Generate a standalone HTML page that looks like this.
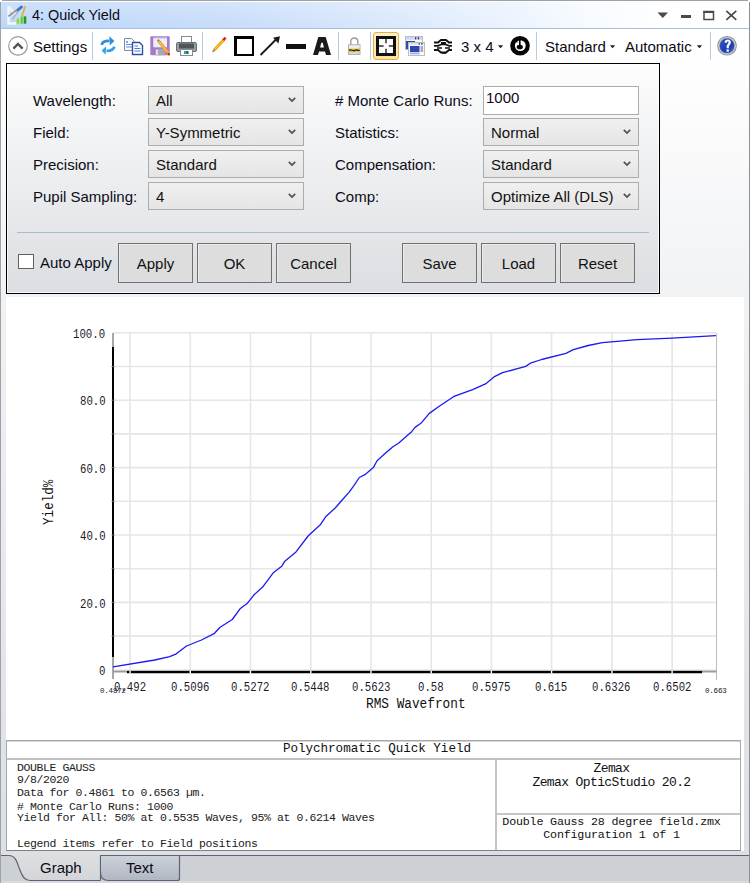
<!DOCTYPE html>
<html><head><meta charset="utf-8">
<style>
*{margin:0;padding:0;box-sizing:border-box}
html,body{width:750px;height:883px;overflow:hidden;background:#fff}
body{position:relative;font-family:"Liberation Sans",sans-serif;color:#000}
.a{position:absolute}
.t{position:absolute;white-space:nowrap;line-height:1}
.sans15{font-size:15px}
.combo{position:absolute;height:28px;border:1px solid #acacac;background:linear-gradient(#f0f0f0,#e5e5e5)}
.combo span{position:absolute;left:7px;top:6px;font-size:15px;line-height:15px;white-space:nowrap;color:#111}
.combo svg{position:absolute;right:7px;top:10px}
.btn{position:absolute;top:243px;width:75px;height:40px;border:1px solid #707070;box-shadow:inset 1px 1px 0 #ececec;background:#dddddd;font-size:15px;text-align:center;line-height:40px;color:#111}
.sep{position:absolute;top:32px;width:1px;height:28px;background:#b9cbe0}
.mono{font-family:"Liberation Mono",monospace}
.tk{position:absolute;white-space:nowrap;line-height:1;font-family:"Liberation Mono",monospace;font-size:12px;transform:scaleX(0.89);transform-origin:0 0;color:#1a1a2a}
.ft{position:absolute;left:17px;white-space:pre;line-height:1;font-family:"Liberation Mono",monospace;font-size:11.5px;letter-spacing:-0.4px;color:#222}
.sm{position:absolute;white-space:nowrap;line-height:1;font-family:"Liberation Mono",monospace;font-size:7.5px;letter-spacing:-0.2px;color:#1a1a2a}
</style></head><body>
<!-- window frame background -->
<div class="a" style="left:0;top:0;width:750px;height:883px;background:linear-gradient(#ffffff 0px,#f1f2f4 297px,#dcdfe3 855px)"></div>
<!-- title bar -->
<div class="a" style="left:0;top:2px;width:750px;height:26px;background:linear-gradient(90deg,#bcd6f9 0%,#c6dcfa 30%,#dce9fc 55%,#f6faff 78%,#ffffff 90%)"></div>
<div class="a" style="left:0;top:2px;width:750px;height:26px;background:linear-gradient(rgba(255,255,255,0.25),rgba(255,255,255,0))"></div>
<div class="a" style="left:0;top:0;width:750px;height:2px;background:#fff"></div>
<div class="a" style="left:2px;top:0;width:746px;height:1px;background:#9ca2a8"></div>
<div class="a" style="left:0;top:28px;width:750px;height:1px;background:#a9c0d8"></div>
<!-- toolbar + settings container gradient -->
<div class="a" style="left:1px;top:29px;width:748px;height:268px;background:linear-gradient(#ffffff 0%,#ffffff 8%,#f1f2f4 100%)"></div>
<!-- plot white area -->
<div class="a" style="left:6px;top:297px;width:738px;height:554px;background:#fff"></div>
<!-- window borders -->
<div class="a" style="left:0;top:2px;width:1px;height:881px;background:#9ca2a8"></div>
<div class="a" style="left:749px;top:2px;width:1px;height:881px;background:#8c9096"></div>

<!-- title -->
<svg class="a" style="left:5px;top:3px" width="25" height="24" viewBox="0 0 25 24">
  <path d="M3.5 3.5 V20.5 H11" stroke="#f4f6f8" stroke-width="2.6" fill="none"/>
  <path d="M3.5 3.5 L11 12" stroke="#f0f2f4" stroke-width="2.6"/>
  <path d="M3.3 13.3 L16.7 3.3" stroke="#8a9098" stroke-width="1.6"/>
  <path d="M7.3 16.7 L13 8.3" stroke="#a8b0b8" stroke-width="1.3"/>
  <path d="M13 7 L16.5 4" stroke="#3a78c0" stroke-width="2.8" stroke-linecap="round"/>
  <path d="M20 3.5 L16.8 14" stroke="#e0b040" stroke-width="1.8"/>
  <path d="M20.2 3 L19.6 5" stroke="#f0a0a0" stroke-width="1.8"/>
  <rect x="11.7" y="15.7" width="2.6" height="5" fill="#88e020"/>
  <rect x="15.7" y="14" width="2" height="6.7" fill="#58d020"/>
  <rect x="18.7" y="13.3" width="2.6" height="7.4" fill="#229a22"/>
</svg>
<div class="t" style="left:32px;top:8px;font-size:14.4px;color:#0c0c18">4: Quick Yield</div>
<!-- window controls -->
<svg class="a" style="left:656px;top:10px" width="84" height="11" viewBox="0 0 84 11">
  <path d="M1.5 2.5 L12 2.5 L6.75 8 Z" fill="#4a4a4a"/>
  <rect x="25" y="5" width="10" height="3" fill="#4a4a4a"/>
  <rect x="48" y="1.5" width="9.5" height="8" fill="none" stroke="#4a4a4a" stroke-width="1.5"/>
  <rect x="47.5" y="1" width="10.5" height="2" fill="#4a4a4a"/>
  <path d="M70.3 0.8 L80.3 9.8 M80.3 0.8 L70.3 9.8" stroke="#4a4a4a" stroke-width="1.7"/>
</svg>

<!-- toolbar -->
<svg class="a" style="left:8px;top:36px" width="20" height="20" viewBox="0 0 20 20">
  <circle cx="10" cy="9.9" r="9.3" fill="#fff" stroke="#9c9c9c" stroke-width="1.2"/>
  <path d="M5.4 12.6 L10 8 L14.6 12.6" stroke="#525252" stroke-width="2.3" fill="none"/>
</svg>
<div class="t sans15" style="left:33px;top:39px;color:#0c0c18">Settings</div>
<div class="sep" style="left:92px"></div>
<!-- refresh -->
<svg class="a" style="left:100px;top:36px" width="16" height="20" viewBox="0 0 16 20">
  <path d="M1.6 8.8 C2.4 5.6 5 4.6 9.5 4.9" stroke="#2a90e2" stroke-width="2.7" fill="none"/>
  <path d="M9.3 0.3 L14.4 5.1 L9.8 9.6 Z" fill="#2a90e2"/>
  <path d="M14.3 10.6 C13.6 13.8 11 14.9 6.5 14.8" stroke="#30a2ee" stroke-width="2.7" fill="none"/>
  <path d="M6.2 10.2 L1.6 14.4 L5.6 18.8 Z" fill="#30a2ee"/>
</svg>
<!-- copy -->
<svg class="a" style="left:123px;top:38px" width="21" height="18" viewBox="0 0 21 18">
  <path d="M1.5 0.5 H8.5 L11.5 3.5 V12.5 H1.5 Z" fill="#fafcff" stroke="#7c8ca8" stroke-width="1"/>
  <rect x="3" y="3" width="2" height="2" fill="#80a8e0"/>
  <path d="M3 6.5 H9 M3 9 H9" stroke="#6890d0" stroke-width="1.2"/>
  <path d="M9.5 4.5 H16.5 L19.5 7.5 V16.5 H9.5 Z" fill="#fff" stroke="#2c50a8" stroke-width="1.4"/>
  <path d="M11.5 8 H15 M11.5 10.5 H17.5 M11.5 13 H17.5" stroke="#4c78d0" stroke-width="1.2"/>
</svg>
<!-- save floppy -->
<svg class="a" style="left:150px;top:36px" width="20" height="20" viewBox="0 0 20 20">
  <rect x="0.3" y="0.3" width="19.4" height="19" rx="1" fill="#a878cc"/>
  <rect x="3.3" y="2" width="13.7" height="9.3" fill="#eaf0f8"/>
  <rect x="3.3" y="1.2" width="13.7" height="1.2" fill="#c8b0e0"/>
  <rect x="5.3" y="13" width="9.4" height="6.3" fill="#a8a8b8"/>
  <rect x="6" y="13.8" width="1.8" height="5" fill="#e8e8f0"/>
  <path d="M8.3 4.5 L18.8 17.8" stroke="#f0a020" stroke-width="3"/>
  <path d="M8.5 5 L17 15.8" stroke="#ffd060" stroke-width="0.9"/>
  <path d="M7.6 3.6 L8.8 5.2" stroke="#909098" stroke-width="2.2"/>
  <path d="M18.2 17.2 L19.6 19.2" stroke="#d82020" stroke-width="2"/>
</svg>
<!-- printer -->
<svg class="a" style="left:176px;top:36px" width="21" height="20" viewBox="0 0 21 20">
  <rect x="5.5" y="0.5" width="10" height="7" fill="#fff" stroke="#8a8a8a"/>
  <rect x="0.5" y="6.5" width="20" height="9" rx="1.5" fill="#9a9ea4" stroke="#6a6e74"/>
  <rect x="3" y="7.5" width="15" height="5" fill="#505458"/>
  <rect x="4.5" y="13.5" width="12" height="6" fill="#fff" stroke="#8a8a8a"/>
  <rect x="8" y="15" width="1.5" height="3" fill="#2890e0"/>
  <rect x="9.5" y="15" width="1.5" height="3" fill="#208850"/>
  <rect x="11" y="15" width="1.5" height="3" fill="#2050a0"/>
  <rect x="18" y="10.5" width="1.3" height="2" fill="#50d050"/>
</svg>
<div class="sep" style="left:202px"></div>
<!-- pencil -->
<svg class="a" style="left:212px;top:36px" width="15" height="17" viewBox="0 0 15 17">
  <path d="M1.8 14.5 L12 3.5" stroke="#f0a010" stroke-width="2.9"/>
  <path d="M3 13 L11.5 4" stroke="#ffd040" stroke-width="1"/>
  <path d="M11.3 4.2 L13.6 1.6" stroke="#e02020" stroke-width="2.6"/>
  <path d="M0.6 16.2 L2.4 14" stroke="#808080" stroke-width="1.3"/>
</svg>
<!-- square -->
<div class="a" style="left:234px;top:36px;width:20px;height:20px;border-style:solid;border-color:#000;border-width:3px 2.5px 2.5px 3px"></div>
<!-- arrow -->
<svg class="a" style="left:259px;top:35px" width="22" height="22" viewBox="0 0 22 22">
  <path d="M1.5 20 L17 4.5" stroke="#1a1a1a" stroke-width="1.8"/>
  <path d="M21 1.2 L14 2.8 L19.4 8.6 Z" fill="#1a1a1a"/>
</svg>
<div class="a" style="left:286px;top:44px;width:20px;height:5px;background:#111"></div>
<svg class="a" style="left:313px;top:37px" width="18" height="18" viewBox="0 0 18 18">
  <path fill-rule="evenodd" fill="#1a1a1a" d="M0 18 L5.3 0 H12.7 L18 18 H13 L12 14.6 H6 L5 18 Z M7.1 10.6 H10.9 L9.7 5.8 H8.3 Z"/>
</svg>
<div class="sep" style="left:338px"></div>
<!-- lock -->
<svg class="a" style="left:348px;top:36px" width="13" height="19" viewBox="0 0 13 19">
  <path d="M2.8 9 V5.5 C2.8 0.8 9.8 0.8 9.8 5.5 V9" stroke="#9a9a9a" stroke-width="1.4" fill="none"/>
  <rect x="0.5" y="8.8" width="11.5" height="9.8" fill="#d8d8d8" stroke="#b0b0b0" stroke-width="1"/>
  <rect x="1" y="9.3" width="10.5" height="3" fill="#ececec"/>
  <rect x="1" y="12.8" width="10.5" height="3.2" fill="#e8c020"/>
  <path d="M1 14.2 C3 12.8 5 15.8 7 14.2 C9 12.8 10 15.5 11.5 14" stroke="#202020" stroke-width="1.3" fill="none"/>
</svg>
<div class="sep" style="left:370px"></div>
<!-- highlighted layout button -->
<div class="a" style="left:373px;top:32px;width:26px;height:28px;border:1px solid #e3b050;border-radius:3px;background:linear-gradient(#fdf0c4,#fce29c)"></div>
<svg class="a" style="left:376px;top:36px" width="20" height="20" viewBox="0 0 20 20">
  <rect x="1.5" y="1.5" width="17" height="17" fill="#fff" stroke="#111" stroke-width="3"/>
  <path d="M10 3 V7.2 M10 12.8 V17 M3 10 H7.6 M12.8 10 H17" stroke="#303030" stroke-width="1.5"/>
</svg>
<!-- window icon -->
<svg class="a" style="left:405px;top:36px" width="20" height="20" viewBox="0 0 20 20">
  <rect x="0.5" y="0.5" width="17" height="13" fill="#f4f6fa" stroke="#b8bcc4"/>
  <rect x="1" y="1" width="16" height="2.6" fill="#d0d8e4"/>
  <rect x="10" y="1.2" width="1.3" height="2.2" fill="#28406a"/>
  <rect x="12.8" y="1.2" width="1.3" height="2.2" fill="#28406a"/>
  <rect x="1" y="5" width="9" height="8" fill="#3048b0"/>
  <rect x="3.5" y="6.5" width="16" height="13" fill="#f8f9fb" stroke="#b8bcc4"/>
  <rect x="4" y="7" width="15" height="1.8" fill="#e0e4ea"/>
  <rect x="13.6" y="7.2" width="1.4" height="1.3" fill="#28406a"/>
  <rect x="16" y="7.2" width="1.6" height="1.3" fill="#28406a"/>
  <rect x="5" y="10" width="9.5" height="6" fill="#3048b0"/>
  <rect x="15.5" y="10" width="2.6" height="6" fill="#a8acb4"/>
  <rect x="5" y="16.5" width="9.5" height="1.8" fill="#a0b0e0"/>
</svg>
<!-- layers icon -->
<svg class="a" style="left:433px;top:37px" width="20" height="18" viewBox="0 0 20 18">
  <path d="M1 5.5 H5 L8 3 H13 L16 5.5 H19" stroke="#111" stroke-width="2" fill="none"/>
  <rect x="8" y="5" width="5" height="2" fill="#111"/>
  <path d="M1 8.8 H5 L8 7.5 H13 L16 8.8 H19" stroke="#111" stroke-width="1.7" fill="none"/>
  <path d="M4 11 H9 M12 11 H17" stroke="#111" stroke-width="1.4"/>
  <path d="M1 13 H5 L8 15.5 H13 L16 13 H19" stroke="#111" stroke-width="2" fill="none"/>
  <rect x="9" y="15" width="4" height="1.8" fill="#111"/>
</svg>
<div class="t sans15" style="left:461px;top:39px;color:#0c0c18">3 x 4</div>
<svg class="a" style="left:497px;top:45px" width="7" height="4" viewBox="0 0 7 4"><path d="M0.8 0.3 H6.2 L3.5 3.2Z" fill="#222"/></svg>
<!-- circle icon -->
<svg class="a" style="left:510px;top:36px" width="20" height="20" viewBox="0 0 20 20">
  <circle cx="10" cy="9.8" r="9.8" fill="#050505"/>
  <circle cx="10.3" cy="9.6" r="5.4" fill="#fff"/>
  <path d="M5 5.5 L7.5 4.2 L7.3 6.8 Z" fill="#050505"/>
  <ellipse cx="9.8" cy="11" rx="3.1" ry="2.3" fill="#050505"/>
  <rect x="9" y="4" width="1.6" height="6" fill="#050505"/>
</svg>
<div class="sep" style="left:536px"></div>
<div class="t sans15" style="left:545px;top:39px;color:#0c0c18">Standard</div>
<svg class="a" style="left:609px;top:45px" width="7" height="4" viewBox="0 0 7 4"><path d="M0.8 0.3 H6.2 L3.5 3.2Z" fill="#222"/></svg>
<div class="t sans15" style="left:625px;top:39px;color:#0c0c18">Automatic</div>
<svg class="a" style="left:696px;top:45px" width="7" height="4" viewBox="0 0 7 4"><path d="M0.8 0.3 H6.2 L3.5 3.2Z" fill="#222"/></svg>
<div class="sep" style="left:710px"></div>
<!-- help -->
<svg class="a" style="left:717px;top:36px" width="20" height="20" viewBox="0 0 20 20">
  <defs><linearGradient id="hg" x1="0" y1="0" x2="1" y2="1"><stop offset="0" stop-color="#3058c8"/><stop offset="0.6" stop-color="#1c3cb0"/><stop offset="1" stop-color="#3a68d8"/></linearGradient></defs>
  <circle cx="10" cy="9.8" r="9.8" fill="#8a8e94"/>
  <circle cx="10" cy="9.8" r="8.9" fill="#d4d9df"/>
  <circle cx="10" cy="9.8" r="8.0" fill="#9aa0a8"/>
  <circle cx="10" cy="9.8" r="7.2" fill="url(#hg)"/>
  <path fill="#fff" d="M7.6 6.6 C7.6 4.4 9.3 3.6 10.8 3.6 C12.6 3.6 13.9 4.7 13.9 6.4 C13.9 8.4 11.9 8.9 11.8 10.9 V12.2 H9.6 V10.6 C9.6 8.3 11.6 7.9 11.6 6.6 C11.6 6 11.2 5.6 10.7 5.6 C10.1 5.6 9.8 6.1 9.8 6.9 Z"/>
  <rect x="9.6" y="13.4" width="2.2" height="2.3" fill="#fff"/>
</svg>
<!-- settings panel -->
<div class="a" style="left:6px;top:63px;width:654px;height:231px;border:1px solid #000;box-shadow:inset 0 0 0 1px rgba(255,255,255,0.75);background:linear-gradient(#fdfdfd,#dbdee2)"></div>
<div class="t sans15" style="left:33px;top:93px;color:#0c0c18">Wavelength:</div>
<div class="t sans15" style="left:33px;top:125px;color:#0c0c18">Field:</div>
<div class="t sans15" style="left:33px;top:157px;color:#0c0c18">Precision:</div>
<div class="t sans15" style="left:33px;top:189px;color:#0c0c18">Pupil Sampling:</div>
<div class="combo" style="left:148px;top:86px;width:156px"><span>All</span><svg width="8" height="6" viewBox="0 0 8 6"><path d="M0.8 0.8 L4 4 L7.2 0.8" stroke="#505050" stroke-width="1.7" fill="none"/></svg></div>
<div class="combo" style="left:148px;top:118px;width:156px"><span>Y-Symmetric</span><svg width="8" height="6" viewBox="0 0 8 6"><path d="M0.8 0.8 L4 4 L7.2 0.8" stroke="#505050" stroke-width="1.7" fill="none"/></svg></div>
<div class="combo" style="left:148px;top:150px;width:156px"><span>Standard</span><svg width="8" height="6" viewBox="0 0 8 6"><path d="M0.8 0.8 L4 4 L7.2 0.8" stroke="#505050" stroke-width="1.7" fill="none"/></svg></div>
<div class="combo" style="left:148px;top:182px;width:156px"><span>4</span><svg width="8" height="6" viewBox="0 0 8 6"><path d="M0.8 0.8 L4 4 L7.2 0.8" stroke="#505050" stroke-width="1.7" fill="none"/></svg></div>

<div class="t sans15" style="left:335px;top:93px;color:#0c0c18"># Monte Carlo Runs:</div>
<div class="t sans15" style="left:335px;top:125px;color:#0c0c18">Statistics:</div>
<div class="t sans15" style="left:335px;top:157px;color:#0c0c18">Compensation:</div>
<div class="t sans15" style="left:335px;top:189px;color:#0c0c18">Comp:</div>
<div class="a" style="left:483px;top:86px;width:156px;height:29px;border:1px solid #acacac;background:#fff"></div>
<div class="t sans15" style="left:486px;top:90px;color:#0c0c18">1000</div>
<div class="combo" style="left:483px;top:118px;width:156px"><span>Normal</span><svg width="8" height="6" viewBox="0 0 8 6"><path d="M0.8 0.8 L4 4 L7.2 0.8" stroke="#505050" stroke-width="1.7" fill="none"/></svg></div>
<div class="combo" style="left:483px;top:150px;width:156px"><span>Standard</span><svg width="8" height="6" viewBox="0 0 8 6"><path d="M0.8 0.8 L4 4 L7.2 0.8" stroke="#505050" stroke-width="1.7" fill="none"/></svg></div>
<div class="combo" style="left:483px;top:182px;width:156px"><span>Optimize All (DLS)</span><svg width="8" height="6" viewBox="0 0 8 6"><path d="M0.8 0.8 L4 4 L7.2 0.8" stroke="#505050" stroke-width="1.7" fill="none"/></svg></div>

<div class="a" style="left:17px;top:232px;width:632px;height:1px;background:#a6bcc8"></div>
<div class="a" style="left:18px;top:254px;width:16px;height:15px;border:1px solid #606060;background:#fff"></div>
<div class="t sans15" style="left:40px;top:255px;color:#0c0c18">Auto Apply</div>
<div class="btn" style="left:118px">Apply</div>
<div class="btn" style="left:197px">OK</div>
<div class="btn" style="left:276px">Cancel</div>
<div class="btn" style="left:402px">Save</div>
<div class="btn" style="left:481px">Load</div>
<div class="btn" style="left:560px">Reset</div>

<!-- PLOT -->
<svg class="a" style="left:0;top:0" width="750" height="883" viewBox="0 0 750 883">
  <g stroke="#e6e6e6" stroke-width="1.6">
    <path d="M113 332.8 H716 M113 366.5 H716 M113 400.2 H716 M113 433.9 H716 M113 467.6 H716 M113 501.3 H716 M113 535.0 H716 M113 568.7 H716 M113 602.4 H716 M113 636.1 H716"/>
    <path d="M113 669.5 H716" stroke="#f0f0f0" stroke-width="1"/>
    <path d="M130.1 333 V671 M190.3 333 V671 M250.5 333 V671 M310.8 333 V671 M371 333 V671 M431.2 333 V671 M491.4 333 V671 M551.6 333 V671 M611.9 333 V671 M672.1 333 V671"/>
  </g>
  <path d="M716.5 333 V680" stroke="#bcbcbc" stroke-width="1"/>
  <path d="M113 347 V657" stroke="#000" stroke-width="2"/>
  <path d="M113 333 V347 M113 657 V679" stroke="#8a8a8a" stroke-width="1.5"/>
  <path d="M127 672 H702" stroke="#000" stroke-width="2.4"/>
  <path d="M113 671.5 H127 M702 671.5 H716.5" stroke="#9a9a9a" stroke-width="2"/>
  <path d="M111.5 366.5 H114.5 M111.5 400.2 H114.5 M111.5 433.9 H114.5 M111.5 467.6 H114.5 M111.5 501.3 H114.5 M111.5 535.0 H114.5 M111.5 568.7 H114.5 M111.5 602.4 H114.5 M111.5 636.1 H114.5" stroke="#707070" stroke-width="0.9"/>
  <path d="M130.1 670.5 V673.5 M190.3 670.5 V673.5 M250.5 670.5 V673.5 M310.8 670.5 V673.5 M371.0 670.5 V673.5 M431.2 670.5 V673.5 M491.4 670.5 V673.5 M551.6 670.5 V673.5 M611.9 670.5 V673.5 M672.1 670.5 V673.5" stroke="#fff" stroke-width="1.4"/>
  <polyline fill="none" stroke="#1a1af2" stroke-width="1.3" stroke-linejoin="round" points="113,666.8 154.8,660 169.7,656.6 176.3,653.8 186.5,646 201.5,640 214.5,633.3 220.1,627.3 232.3,619.5 240,608.8 247.5,603.2 254,594.8 262.4,587.3 273.6,572.4 282,565.9 284.8,561.2 296,551.9 308.1,536 320.3,524.8 325.9,516.4 335.2,508 341.7,500.5 349.2,492.1 353.9,485.6 359.3,477.5 364.9,474.7 373.3,467.6 377.1,460.7 384.5,454.1 392.9,446.7 398.5,443.3 411.6,431.7 415.3,427.1 420.9,423.3 429.3,413.4 438.5,406.8 453.5,396.7 456.7,395.3 472.7,389.7 485.5,383.9 494,376.9 502.5,372.7 525.7,366.4 530.4,363.2 541.6,359.5 565.9,353.3 573.3,349.6 588.3,345.5 602.3,342.7 620,341.2 636.9,339.6 672.1,338.1 715.9,335.6"/>
</svg>
<!-- y labels -->
<div class="tk" style="left:73px;top:329px">100.0</div>
<div class="tk" style="left:79.5px;top:396px">80.0</div>
<div class="tk" style="left:79.5px;top:464px">60.0</div>
<div class="tk" style="left:79.5px;top:531px">40.0</div>
<div class="tk" style="left:79.5px;top:599px">20.0</div>
<div class="tk" style="left:99px;top:666px">0</div>
<!-- x labels -->
<div class="tk" style="left:114px;top:682px">0.492</div>
<div class="tk" style="left:171px;top:682px">0.5096</div>
<div class="tk" style="left:231px;top:682px">0.5272</div>
<div class="tk" style="left:291px;top:682px">0.5448</div>
<div class="tk" style="left:352px;top:682px">0.5623</div>
<div class="tk" style="left:418px;top:682px">0.58</div>
<div class="tk" style="left:472px;top:682px">0.5975</div>
<div class="tk" style="left:535px;top:682px">0.615</div>
<div class="tk" style="left:592px;top:682px">0.6326</div>
<div class="tk" style="left:653px;top:682px">0.6502</div>
<div class="sm" style="left:100px;top:688px">0.4872</div>
<div class="sm" style="left:705px;top:688px">0.663</div>
<div class="t mono" style="left:366px;top:697px;font-size:14.5px;color:#111;transform:scaleX(0.88);transform-origin:0 0">RMS Wavefront</div>
<div class="t mono" style="left:42px;top:525px;font-size:14.5px;color:#111;transform:rotate(-90deg) scaleX(0.87);transform-origin:0 0">Yield%</div>

<!-- footer table -->
<div class="a" style="left:6px;top:740px;width:735px;height:111px;border:1px solid #a8a8a8;border-bottom-color:#808080;background:#fff"></div><div class="a" style="left:7px;top:741px;width:733px;height:1px;background:#d4d4d4"></div>
<div class="a" style="left:7px;top:758px;width:733px;height:2px;background:#c2c2c2"></div>
<div class="a" style="left:495px;top:760px;width:2px;height:90px;background:#c2c2c2"></div>
<div class="a" style="left:497px;top:813px;width:243px;height:2px;background:#c6c6c6"></div>
<div class="t mono" style="left:283px;top:743px;font-size:12.6px;letter-spacing:-0.04px;color:#111">Polychromatic Quick Yield</div>
<div class="ft" style="top:761.9px">DOUBLE GAUSS</div>
<div class="ft" style="top:773.9px">9/8/2020</div>
<div class="ft" style="top:786.8px">Data for 0.4861 to 0.6563 µm.</div>
<div class="ft" style="top:800.8px"># Monte Carlo Runs: 1000</div>
<div class="ft" style="top:811.9px">Yield for All: 50% at 0.5535 Waves, 95% at 0.6214 Waves</div>
<div class="ft" style="top:837.9px">Legend items refer to Field positions</div>
<div class="a mono" style="left:497px;top:762px;width:229px;font-size:13px;letter-spacing:-0.62px;line-height:13.6px;text-align:center;white-space:pre;color:#111">Zemax
Zemax OpticStudio 20.2</div>
<div class="a mono" style="left:497px;top:816px;width:229px;font-size:11.7px;letter-spacing:-0.19px;line-height:13.3px;text-align:center;white-space:pre;color:#111">Double Gauss 28 degree field.zmx
Configuration 1 of 1</div>

<!-- tabs -->
<div class="a" style="left:1px;top:851px;width:748px;height:4px;background:#dcdfe3"></div>
<div class="a" style="left:1px;top:855px;width:748px;height:28px;background:#cdd0d5"></div>
<svg class="a" style="left:0;top:850px" width="750" height="33" viewBox="0 0 750 33">
  <defs>
    <linearGradient id="tg" x1="0" y1="0" x2="0" y2="1"><stop offset="0" stop-color="#cdd1d8"/><stop offset="1" stop-color="#b0b6c0"/></linearGradient>
    <linearGradient id="ag" x1="0" y1="0" x2="0" y2="1"><stop offset="0" stop-color="#dedfe1"/><stop offset="1" stop-color="#d4d5d8"/></linearGradient>
  </defs>
  <path d="M1 5.5 H9 C15.5 5.5 17 12 19.5 19 C22.5 27 25 30.5 30 30.5 H100.5 V5 H1 Z" fill="url(#ag)"/>
  <path d="M1 1 H749 V5 H1Z" fill="#dcdfe3"/>
  <path d="M1 5.5 H9 C15.5 5.5 17 12 19.5 19 C22.5 27 25 30.5 30 30.5 H100.5" fill="none" stroke="#5c6474" stroke-width="1.2"/>
  <path d="M100.5 30.5 V5.5 H749" fill="none" stroke="#5c6474" stroke-width="1.2"/>
  <path d="M101 6 H179.5 V29 Q179.5 30.5 178 30.5 H108 Q101 30.5 101 23.5 Z" fill="url(#tg)"/>
  <path d="M179.5 5.5 V28.5 Q179.5 30.5 177.5 30.5 H108.5 Q100.5 30.5 100.5 22.5" fill="none" stroke="#5c6474" stroke-width="1.2"/>
</svg>
<div class="a" style="left:1px;top:881px;width:748px;height:2px;background:#d8dade"></div>
<div class="t sans15" style="left:40px;top:860px;color:#0c0c18">Graph</div>
<div class="t sans15" style="left:126px;top:860px;color:#0c0c18">Text</div>
</body></html>
